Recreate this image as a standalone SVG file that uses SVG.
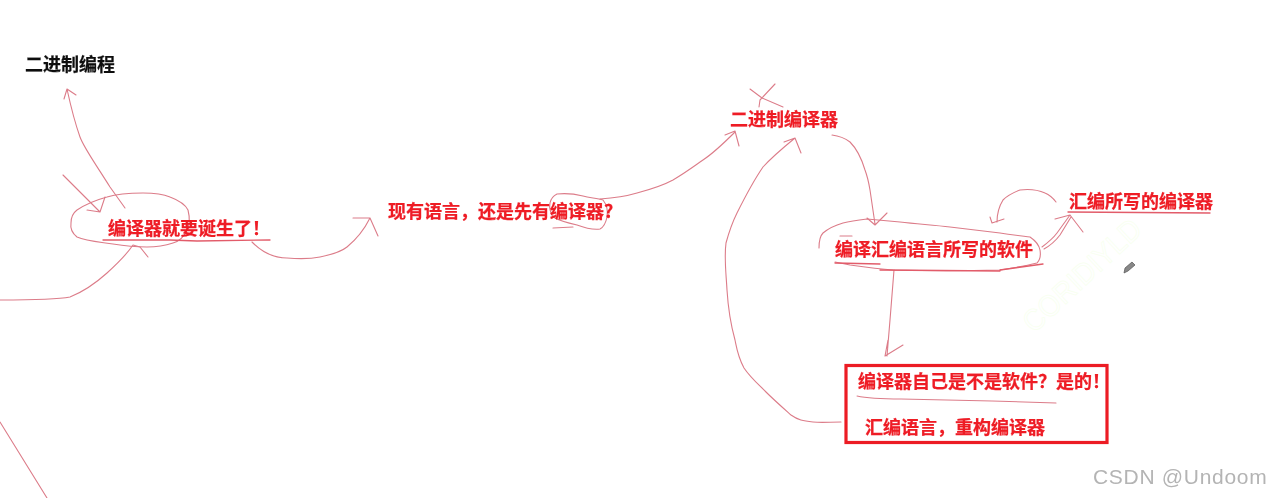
<svg xmlns="http://www.w3.org/2000/svg" width="1274" height="498" viewBox="0 0 1274 498">
<defs>
<filter id="soft" x="-5%" y="-20%" width="110%" height="140%"><feGaussianBlur stdDeviation="0.4"/></filter>
</defs>
<style>
text{font-family:"Noto Sans CJK SC","Liberation Sans",sans-serif;font-weight:700;font-size:18px;fill:#ee1c25;stroke:#ee1c25;stroke-width:0.25;filter:url(#soft)}
.black{fill:#111;stroke:#111}
.ink{fill:none;stroke:#dc7c89;stroke-width:1.1;stroke-linecap:round;stroke-linejoin:round}
.under{fill:none;stroke:#e25c6a;stroke-width:1.3;stroke-linecap:round}
.wm{fill:none;stroke:#f8fff0;stroke-width:0.8;font-family:"Liberation Sans",sans-serif;font-weight:400;font-size:30px;filter:none}
.csdn{fill:#b4b4b4;stroke:none;font-family:"Liberation Sans",sans-serif;font-weight:400;font-size:21px;letter-spacing:0.7px}
</style>
<rect width="1274" height="498" fill="#fff"/>
<text class="wm" transform="translate(1034 334) rotate(-43)" textLength="150" lengthAdjust="spacingAndGlyphs">CORIDIYLD</text>
<g id="connectors">
<path class="ink" d="M125 208L110 187C95 163 84 148 80 137C74 120 72 112 67 89M64 99L67 89L76 95"/>
<path class="ink" d="M63 175L100 212M87 210L100 212L105 197"/>
<path class="ink" d="M252 242C262 252 275 258 287 258C300 259 310 259 320 257C335 254 342 251 347 247C358 238 365 228 370 218M353 218L370 218L378 236"/>
<path class="ink" d="M0 300C30 300 55 300 70 297C85 291 97 282 107 273C118 263 127 254 133 245L140 247L148 257"/>
<path class="ink" d="M0 422L47 498"/>
<path class="ink" d="M600 199C615 198 627 196 637 193C652 189 662 186 673 180C685 173 693 167 703 160C715 152 725 142 735 132M725 135L735 131L739 146"/>
<path class="ink" d="M750 89L762 98L783 107M775 84L760 100L759 107"/>
<path class="ink" d="M841 422C830 422 822 423 813 422C803 421 798 420 791 415C782 407 774 400 766 392C757 383 750 377 744 368C738 357 737 350 735 340C730 322 728 306 727 290C726 272 724 258 726 243C729 232 732 223 737 213C745 197 754 180 763 167C773 156 784 147 795 138M784 142L795 138L801 153"/>
<path class="ink" d="M832 135C840 136 846 139 850 142C858 150 862 160 865 170C868 178 869 184 870 190L875 224M867 218L875 225L887 213"/>
<path class="ink" d="M894 270L890 320L887 356M888 340L885 356L903 345"/>
<path class="ink" d="M1056 202C1053 198 1050 195 1045 193C1036 189 1028 189 1020 190C1012 193 1007 196 1003 200C998 208 997 214 997 222M990 217L992 223L1004 219"/>
<path class="ink" d="M1042 247C1050 241 1054 237 1057 233L1070 215M1044 249C1053 244 1057 239 1060 235L1071 217M1055 219L1070 215L1083 232"/>
</g>
<g id="node-binary-programming"><text class="black" x="25" y="71">二进制编程</text></g>
<g id="node-compiler-born">
<path class="ink" d="M107 197C120 193 132 193 143 193C155 193 163 194 170 197C178 200 185 204 188 210C190 218 190 224 187 230C184 237 180 241 173 243C164 246 156 247 147 247C135 247 125 246 113 244C100 242 86 241 77 237C72 233 70 229 71 223C71 217 73 213 77 210C86 204 96 200 107 197Z"/>
<path class="under" d="M103 240L170 240L197 241L270 240"/>
<text x="108" y="235">编译器就要诞生了&#xFF01;</text>
</g>
<g id="node-language-or-compiler">
<path class="ink" d="M550 203C551 198 553 196 557 194C566 193 575 194 583 196C590 198 597 198 603 200C607 205 608 211 607 217C606 222 604 227 600 229C592 230 585 228 577 225C568 223 560 221 553 217C550 212 549 208 550 203Z"/>
<path class="ink" d="M553 228L573 227"/>
<text x="388" y="218">现有语言&#xFF0C;还是先有编译器?</text>
</g>
<g id="node-binary-compiler"><text x="730" y="126">二进制编译器</text></g>
<g id="node-assembly-software">
<path class="ink" d="M819 248C819 241 820 236 823 233C829 228 836 225 843 223C851 221 859 220 867 219C878 220 889 221 900 222C917 224 933 225 950 227C967 229 983 231 1000 233C1012 235 1022 236 1030 237C1036 241 1039 245 1040 250C1041 256 1040 260 1037 263C1025 266 1013 268 1000 270C965 271 928 271 893 270C878 269 864 267 850 265L835 262"/>
<path class="ink" d="M840 236L852 236"/>
<path class="under" d="M835 263L880 264M1000 270L1043 264M880 270L1000 271"/>
<text x="835" y="256">编译汇编语言所写的软件</text>
</g>
<g id="node-assembly-compiler">
<path class="under" d="M1068 212L1210 213"/>
<text x="1069" y="208">汇编所写的编译器</text>
</g>
<g id="node-question-box">
<rect x="846" y="365.5" width="261" height="77" fill="none" stroke="#ec1c24" stroke-width="3.2"/>
<path class="ink" d="M857 396C870 399 885 399 901 399L992 401L1056 403"/>
<text x="858" y="388">编译器自己是不是软件&#xFF1F;是的&#xFF01;</text>
<text x="865" y="434">汇编语言&#xFF0C;重构编译器</text>
</g>
<path d="M1124 273L1125 268L1132 262L1135 265L1128 271Z" fill="#888" stroke="#555" stroke-width="0.7"/>
<text class="csdn" x="1093" y="484">CSDN @Undoom</text>
</svg>
